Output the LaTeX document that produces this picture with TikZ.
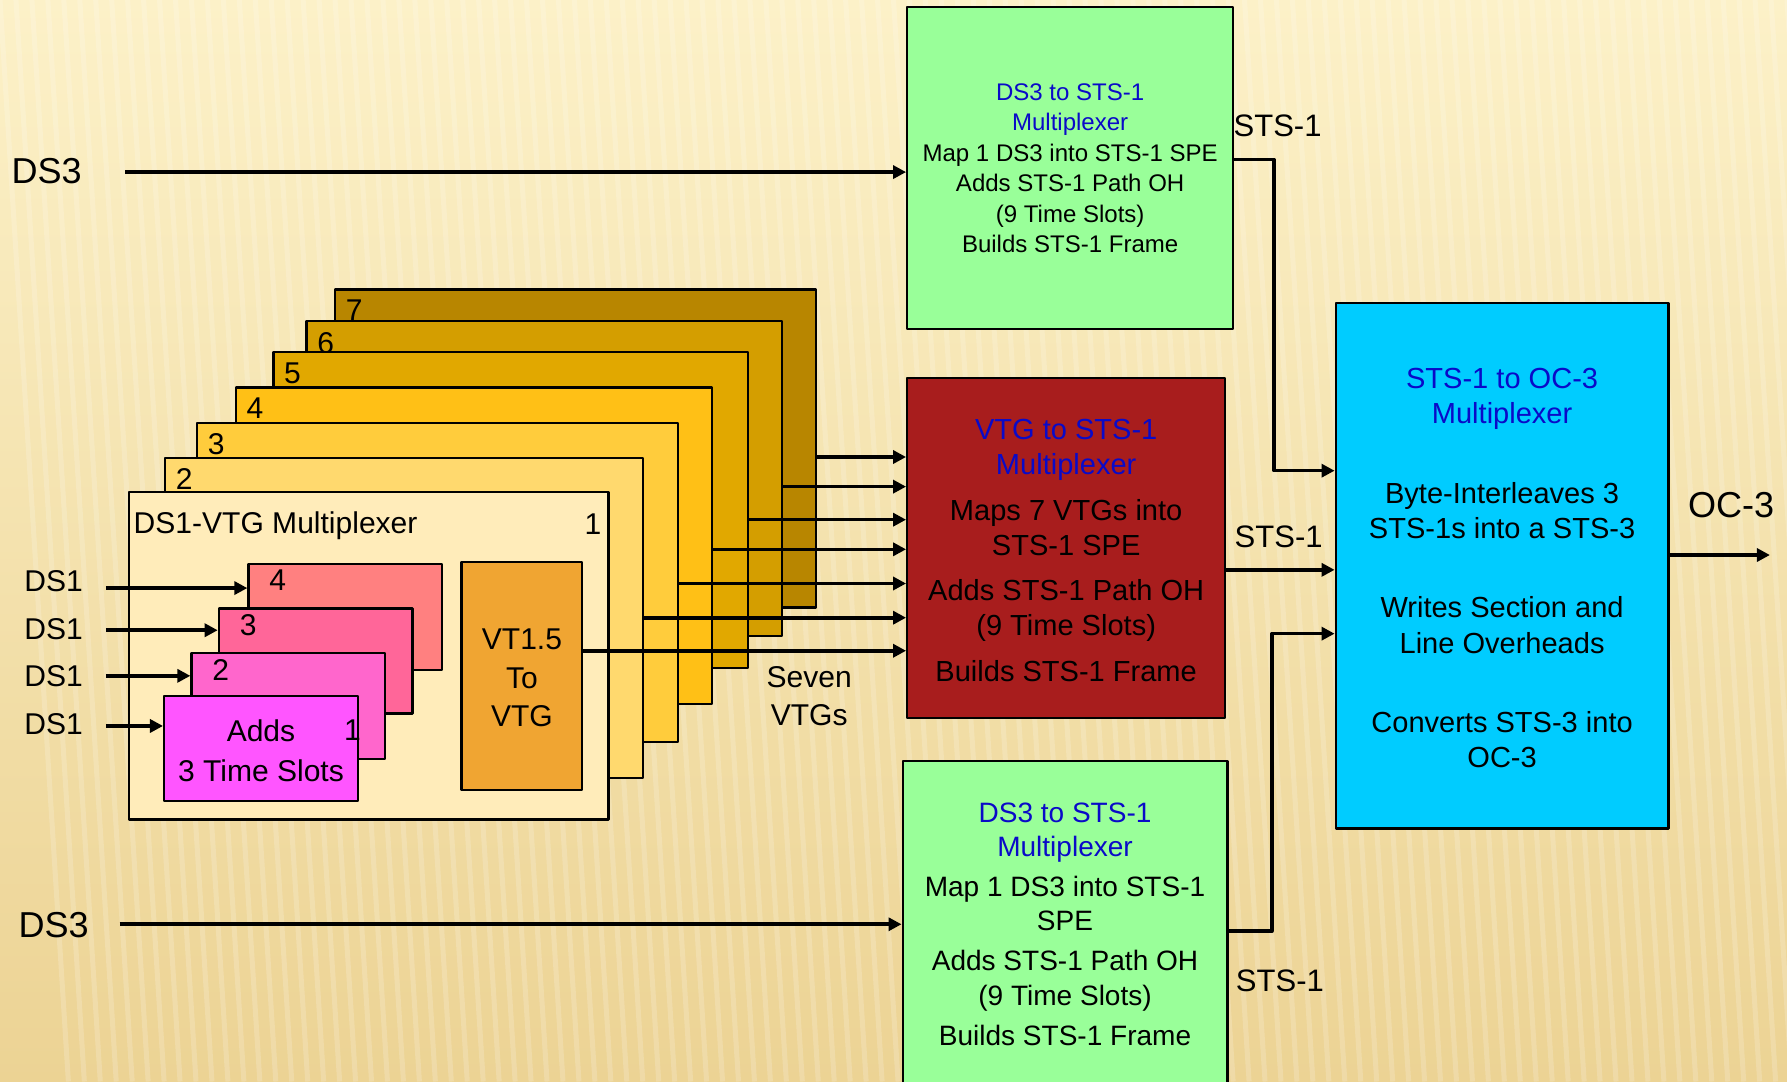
\documentclass[tikz,border=0pt]{standalone}
\usepackage{fontspec}
\setmainfont{Liberation Sans}
\usetikzlibrary{arrows.meta,fit}
\definecolor{bgtop}{RGB}{252,241,200}
\definecolor{bgbot}{RGB}{236,211,148}
\definecolor{dsgreen}{RGB}{153,255,153}
\definecolor{ocblue}{RGB}{0,204,255}
\definecolor{vtgred}{RGB}{168,29,29}
\definecolor{ttlblue}{RGB}{10,10,200}
\definecolor{vtorange}{RGB}{240,165,50}
\definecolor{stkone}{RGB}{255,236,186}
\definecolor{stktwo}{RGB}{255,217,110}
\definecolor{stkthree}{RGB}{255,204,60}
\definecolor{stkfour}{RGB}{255,192,22}
\definecolor{stkfive}{RGB}{225,168,0}
\definecolor{stksix}{RGB}{212,158,0}
\definecolor{stkseven}{RGB}{184,134,0}
\definecolor{pkone}{RGB}{255,85,255}
\definecolor{pktwo}{RGB}{255,102,204}
\definecolor{pkthree}{RGB}{255,102,153}
\definecolor{pkfour}{RGB}{255,128,128}
\begin{document}
\begin{tikzpicture}[x=0.02cm, y=-0.02cm, line join=round, >={Triangle[length=6.5pt,width=6.5pt]},
	box/.style={draw=black, line width=1.1pt, inner sep=0pt},
	wire/.style={line width=1.8pt, ->},
	big/.style={font=\fontsize{18}{21}\selectfont},
	mid/.style={font=\fontsize{15}{18.8}\selectfont, align=center},
	small/.style={font=\fontsize{12}{15.2}\selectfont, align=center},
	redtxt/.style={font=\fontsize{14.5}{17.6}\selectfont, align=center},
	bottxt/.style={font=\fontsize{14}{17}\selectfont, align=center},
	digit/.style={font=\fontsize{15}{18}\selectfont, inner sep=0pt}]
	\clip (0,0) rectangle (1568,949);
	\shade[top color=bgtop, bottom color=bgbot] (0,0) rectangle (1568,949);
	\foreach \s in {0,14,...,1568}\draw[white, opacity=.18, line width=2.5pt] (\s,0)--(\s+60,949);
	%% the stack of seven VTGs
	\foreach \n/\xa/\ya/\xb/\yb/\c in {7/294/254/716/533/stkseven,6/269/282/686/558/stksix,
		5/240/309/656/586/stkfive,4/207/340/625/618/stkfour,3/173/371/595/651/stkthree,2/145/402/564/683/stktwo}{
		\node[box, fill=\c, fit={(\xa,\ya) (\xb,\yb)}] (b\n) {};
		\node[digit, anchor=north west] (nb\n) at ([shift={(10,10)}]b\n.north west) {\n};
	}
	\node[box, fill=stkone, fit={(113,432) (534,719)}] (b1) {};
	\node[mid, anchor=west, inner sep=0pt] (vtgmux) at (117,461) {DS1-VTG Multiplexer};
	\node[digit, anchor=east] (nb1) at (528,460) {1};
	%% DS1 frames
	\foreach \n/\xa/\ya/\xb/\yb/\c in {4/218/495/388/588/pkfour,3/192/534/362/626/pkthree,2/168/573/338/666/pktwo}{
		\node[box, fill=\c, fit={(\xa,\ya) (\xb,\yb)}] (p\n) {};
		\node[digit, anchor=north west] (np\n) at ([shift={(19,6)}]p\n.north west) {\n};
	}
	\node[box, fill=pkone, fit={(144,611) (314,703)}] (p1) {};
	\node[mid, font=\fontsize{15}{19.8}\selectfont] (adds) at ([shift={(0,2)}]p1.center) {Adds\\3 Time Slots};
	\node[digit, anchor=east] (np1) at (317,641) {1};
	\node[box, fill=vtorange, fit={(405,493) (511,693)}] (vt) {};
	\node[mid, font=\fontsize{15}{19.2}\selectfont] (vttxt) at ([shift={(0,2)}]vt.center) {VT1.5\\To\\VTG};
	\foreach \n/\y/\ly in {4/516/510,3/553/552,2/593/593,1/637/635}{
		\coordinate (in\n) at (93,\y);
		\node[mid, anchor=east, inner sep=0pt] (ds\n) at (73,\ly) {DS1};
		\draw[wire] (in\n) -- (p\n.west |- in\n);
	}
	\node[mid] (seven) at (710,611) {Seven\\VTGs};
	%% multiplexers
	\node[box, fill=dsgreen, fit={(796,6) (1082,289)}] (dsa) {};
	\node[small] (dsatxt) at ([shift={(0,0)}]dsa.center) {%
		\textcolor{ttlblue}{DS3 to STS-1}\\\textcolor{ttlblue}{Multiplexer}\\Map 1 DS3 into STS-1 SPE\\
		Adds STS-1 Path OH\\(9 Time Slots)\\Builds STS-1 Frame};
	\node[box, fill=vtgred, fit={(796,332) (1075,630)}] (vtg) {};
	\node[redtxt] (vtgtxt) at ([shift={(0,2)}]vtg.center) {%
		\textcolor{ttlblue}{VTG to STS-1}\\\textcolor{ttlblue}{Multiplexer}\\[5pt]Maps 7 VTGs into\\STS-1 SPE\\[5pt]
		Adds STS-1 Path OH\\(9 Time Slots)\\[5pt]Builds STS-1 Frame};
	\node[box, fill=dsgreen, fit={(792,668) (1077,952)}] (dsb) {};
	\node[bottxt] (dsbtxt) at ([shift={(0,1)}]dsb.center) {%
		\textcolor{ttlblue}{DS3 to STS-1}\\\textcolor{ttlblue}{Multiplexer}\\[3pt]Map 1 DS3 into STS-1\\SPE\\[3pt]
		Adds STS-1 Path OH\\(9 Time Slots)\\[3pt]Builds STS-1 Frame};
	\node[box, fill=ocblue, fit={(1172,266) (1464,727)}] (oc) {};
	\node[redtxt] (octxt) at ([shift={(0,2)}]oc.center) {%
		\textcolor{ttlblue}{STS-1 to OC-3}\\\textcolor{ttlblue}{Multiplexer}\\[22pt]Byte-Interleaves 3\\STS-1s into a STS-3\\[22pt]
		Writes Section and\\Line Overheads\\[22pt]Converts STS-3 into\\OC-3};
	%% VTG arrows
	\foreach \n/\y in {7/401,6/427,5/456,4/482,3/512,2/542}\draw[wire] (b\n.east |- 0,\y) -- (vtg.west |- 0,\y);
	\draw[wire] (vt.east |- 0,571) -- (vtg.west |- 0,571);
	%% DS3 inputs
	\coordinate (ina) at (110,151);
	\coordinate (inb) at (105,811);
	\node[big] (dsthree) at (41,150) {DS3};
	\node[big] (dsthreeb) at (47,812) {DS3};
	\draw[wire] (ina) -- (dsa.west |- ina);
	\draw[wire] (inb) -- (dsb.west |- inb);
	%% STS-1 links
	\node[mid, font=\fontsize{15.5}{18}\selectfont] (stsa) at (1121,110) {STS-1};
	\node[mid, font=\fontsize{15.5}{18}\selectfont] (stsb) at (1122,471) {STS-1};
	\node[mid, font=\fontsize{15.5}{18}\selectfont] (stsc) at (1123,861) {STS-1};
	\draw[wire] (dsa.east |- 0,140) -- ++(35,0) |- (oc.west |- 0,413);
	\draw[wire] (vtg.east |- 0,500) -- (oc.west |- 0,500);
	\draw[wire] (dsb.east |- 0,817) -- ++(38,0) |- (oc.west |- 0,556);
	%% output
	\coordinate (out) at (1553,487);
	\node[big] (octhree) at (1519,443) {OC-3};
	\draw[wire] (oc.east |- out) -- (out);
\end{tikzpicture}
\end{document}
